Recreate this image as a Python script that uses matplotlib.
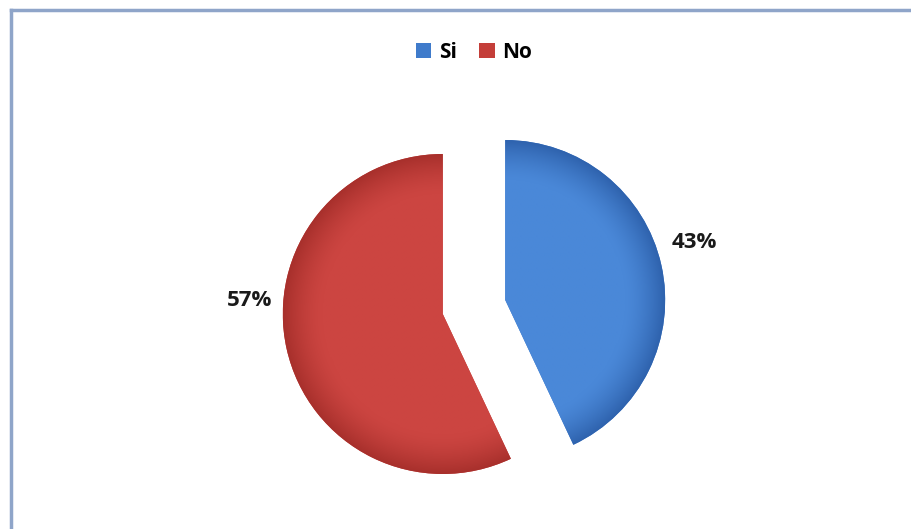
import matplotlib
matplotlib.use("Agg")
import matplotlib.pyplot as plt
import numpy as np
from matplotlib.patches import Patch
from matplotlib.lines import Line2D
from matplotlib.colors import LinearSegmentedColormap

categories = ["Si", "No"]
values = [43, 57]
pct_labels = ["43%", "57%"]
colors = ["#3F7BCB", "#C43E39"]
dark_colors = ["#2F63AE", "#A8302C"]
light_colors = ["#4A88D8", "#CC4541"]

W, H = 911, 529
fig = plt.figure(figsize=(W / 100, H / 100), dpi=100)
fig.patch.set_facecolor("white")
ax = fig.add_axes([0, 0, 1, 1])

R = 160
wedges, _ = ax.pie(values, colors=colors, startangle=90, counterclock=False,
                   radius=R, center=(474, H - 307), explode=[0.2 * R, 0.2 * R],
                   frame=True, wedgeprops=dict(linewidth=0))

# subtle radial shading inside each wedge
for w, lc, dc in zip(wedges, light_colors, dark_colors):
    cx, cy = w.center
    xs = np.linspace(cx - R, cx + R, 300)
    ys = np.linspace(cy - R, cy + R, 300)
    X, Y = np.meshgrid(xs, ys)
    rr = np.sqrt((X - cx) ** 2 + (Y - cy) ** 2) / R
    shade = np.clip((rr - 0.75) / 0.25, 0, 1) ** 1.5
    cmap = LinearSegmentedColormap.from_list("s", [lc, dc])
    im = ax.imshow(shade, extent=(cx - R, cx + R, cy - R, cy + R), origin="lower",
                   cmap=cmap, vmin=0, vmax=1, interpolation="bilinear", zorder=w.get_zorder() + 0.1)
    im.set_clip_path(w)

ax.set_xlim(0, W)
ax.set_ylim(0, H)
ax.set_aspect("equal")
ax.axis("off")

font = dict(family=["Open Sans", "DejaVu Sans"], fontweight="bold",
            fontsize=16, color="#1a1a1a")
ax.text(694, H - 242, pct_labels[0], ha="center", va="center", zorder=5, **font)
ax.text(250, H - 300, pct_labels[1], ha="center", va="center", zorder=5, **font)

# frame (top and left edges)
border = "#8FA5C9"
fig.add_artist(Line2D([11 / W, 11 / W], [0, 1 - 10 / H], transform=fig.transFigure,
                      color=border, linewidth=2.5))
fig.add_artist(Line2D([11 / W, 1], [1 - 10 / H, 1 - 10 / H], transform=fig.transFigure,
                      color=border, linewidth=2.5))

handles = [Patch(facecolor=c, edgecolor="none") for c in colors]
fig.legend(handles, categories, loc="center", bbox_to_anchor=(474 / W, 1 - 52 / H),
           ncol=2, frameon=False, handlelength=0.75, handleheight=0.75,
           handletextpad=0.35, columnspacing=1.1,
           prop=dict(family=["Open Sans", "DejaVu Sans"], weight="bold", size=15))

fig.savefig("out.png", dpi=100, facecolor="white")
